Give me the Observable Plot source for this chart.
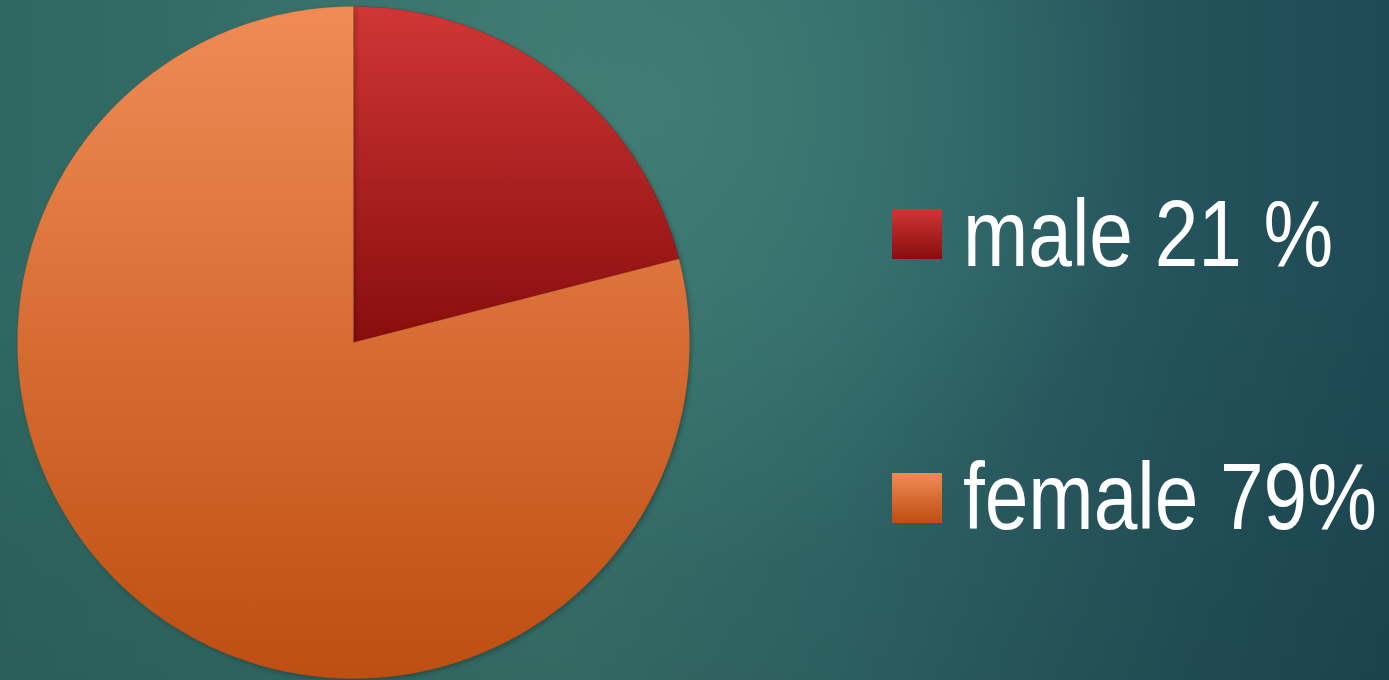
<!DOCTYPE html>
<html>
<head>
<meta charset="utf-8">
<script src="https://cdn.jsdelivr.net/npm/d3@7"></script>
<script src="https://cdn.jsdelivr.net/npm/@observablehq/plot@0.6"></script>
<style>
  html, body { margin: 0; padding: 0; }
  body {
    width: 1389px; height: 680px; overflow: hidden; position: relative;
    background:
      radial-gradient(ellipse 35% 70% at 48% 15%, rgba(72,135,122,0.55) 0%, rgba(72,135,122,0) 100%),
      linear-gradient(to bottom, rgba(0,0,0,0) 40%, rgba(0,0,0,0.10) 100%),
      linear-gradient(to right, #2f6862 0%, #3a746d 40%, #31696a 60%, #24535b 85%, #1e4a55 100%);
    font-family: "Liberation Sans", Arial, sans-serif;
  }
  #chart { position: absolute; left: 0; top: 0; }
  #chart svg path { filter: drop-shadow(2px 2px 2px rgba(0,0,0,0.25)); }
  .leg { position: absolute; left: 0; top: 0; width: 1389px; height: 680px; pointer-events: none; }
  .sw { position: absolute; width: 50px; height: 50px; }
  .lab { position: absolute; color: #ffffff; font-size: 95px; line-height: 95px; white-space: nowrap;
         transform: scaleX(0.825); transform-origin: 0 0; }
</style>
</head>
<body>
<div id="chart"></div>
<div class="leg" id="legend"></div>
<script>
const categories = ["male", "female"];
const values = [21, 79];
const labels = ["male 21 %", "female 79%"];
const gradTop = ["#d03636", "#f08b56"];
const gradBottom = ["#890d0e", "#be4e11"];

// slice outlines from pie angles (geometry only)
const arcs = d3.pie().sort(null)(values);
const slices = arcs.map((a, i) => {
  const pts = [{name: categories[i], x: 0, y: 0}];
  const n = Math.max(8, Math.ceil((a.endAngle - a.startAngle) / (Math.PI / 360)));
  for (let k = 0; k <= n; k++) {
    const t = a.startAngle + (a.endAngle - a.startAngle) * k / n;
    pts.push({name: categories[i], x: Math.sin(t), y: Math.cos(t)});
  }
  return pts;
});

const ns = "http://www.w3.org/2000/svg";
const defsMark = () => {
  const d = document.createElementNS(ns, "defs");
  d.innerHTML = categories.map((c, i) =>
    `<linearGradient id="g-${c}" x1="0" y1="0" x2="0" y2="1">
       <stop offset="0" stop-color="${gradTop[i]}"/>
       <stop offset="1" stop-color="${gradBottom[i]}"/>
     </linearGradient>`).join("");
  return d;
};

const plot = Plot.plot({
  width: 1389,
  height: 680,
  style: {background: "transparent"},
  x: {domain: [-1, 1], range: [17, 689], axis: null},
  y: {domain: [-1, 1], range: [678, 6], axis: null},
  marks: [
    defsMark,
    ...slices.map((s, i) => Plot.line(s, {
      x: "x", y: "y", curve: "linear-closed",
      fill: `url(#g-${categories[i]})`,
      stroke: gradBottom[i], strokeWidth: 0.5, strokeOpacity: 0.5
    }))
  ]
});
document.getElementById("chart").appendChild(plot);

// legend
const leg = document.getElementById("legend");
const swTop = [209, 473];
const labTop = [185.5, 448.5];
categories.forEach((c, i) => {
  const sw = document.createElement("div");
  sw.className = "sw";
  sw.style.left = "892px";
  sw.style.top = swTop[i] + "px";
  sw.style.background = `linear-gradient(to bottom, ${gradTop[i]}, ${gradBottom[i]})`;
  leg.appendChild(sw);
  const lb = document.createElement("div");
  lb.className = "lab";
  lb.style.left = "963px";
  lb.style.top = labTop[i] + "px";
  lb.textContent = labels[i];
  leg.appendChild(lb);
});
</script>
</body>
</html>
